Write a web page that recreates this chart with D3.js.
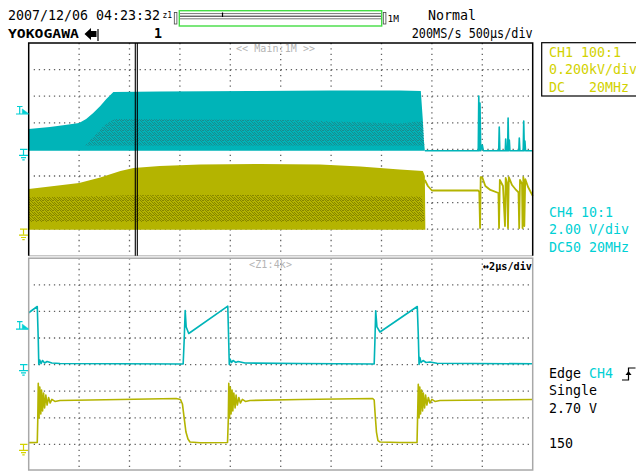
<!DOCTYPE html>
<html>
<head>
<meta charset="utf-8">
<script src="https://cdn.jsdelivr.net/npm/d3@7/dist/d3.min.js"></script>
<style>
body { margin: 0; background: #fff; }
text { font-family: "DejaVu Sans Mono", monospace; white-space: pre; }
</style>
</head>
<body>
<div id="scope"></div>
<script>
// --- main window (0..5 ms, 500us/div) : [ms, volts]
const ch4MainTop = [[0,1.53],[0.21,1.68],[0.36,1.83],[0.50,1.98],[0.57,2.29],[0.64,2.74],[0.71,3.26],[0.77,3.79],[0.84,4.32],[1.30,4.35],[2.20,4.39],[2.99,4.43],[3.68,4.43],[3.89,4.39],[3.91,2.21],[3.92,0.71],[3.93,-0.1]];
const ch4MainDense = [[0.56,0.3],[0.66,1.08],[0.76,1.91],[0.86,2.29],[1.70,2.25],[2.69,2.2],[3.68,1.95],[3.91,2.14],[3.92,0.7],[3.925,0.3]];
const ch4MainFloor = -0.1;
const ch4DenseFloor = 0.3;
const ch4MainTail = [[3.93,-0.1],[4.46,-0.1],[4.465,4.02],[4.471,-0.1],[4.477,3.49],[4.484,-0.1],[4.50,0.33],[4.51,-0.1],[4.663,-0.1],[4.668,1.68],[4.674,-0.1],[4.728,-0.1],[4.732,0.78],[4.738,-0.1],[4.751,-0.1],[4.756,2.36],[4.762,-0.1],[4.768,0.70],[4.774,-0.1],[4.862,-0.1],[4.867,0.86],[4.873,-0.1],[4.906,-0.1],[4.911,2.14],[4.917,-0.1],[4.923,0.63],[4.929,-0.1],[5.0,-0.1]];

const ch1MainTop = [[0,302],[0.21,321],[0.50,347],[0.71,389],[0.91,438],[1.04,460],[1.30,475],[1.70,486],[2.29,490],[2.89,486],[3.29,471],[3.68,449],[3.91,438],[3.93,400],[3.935,-5]];
const ch1MainDense = [[0,240],[0.5,245],[1.0,255],[2.0,258],[3.0,254],[3.9,246],[3.93,54]];
const ch1MainFloor = -5;
const ch1DenseFloor = 54;
const ch1MainTail = [[3.93,370],[3.96,325],[4.00,291],[4.46,291],[4.47,280],[4.478,9],[4.484,392],[4.50,389],[4.53,325],[4.58,295],[4.66,272],[4.666,9],[4.674,370],[4.705,325],[4.725,24],[4.732,385],[4.745,347],[4.755,9],[4.763,392],[4.795,332],[4.835,295],[4.859,276],[4.866,9],[4.874,370],[4.894,340],[4.899,9],[4.907,392],[4.917,24],[4.926,377],[4.954,317],[5.0,250]];

// --- zoom window Z1 (0..20 us, 2us/div) : [us, volts]
const ch4ZoomTrace = [[0,3.90],[0.34,4.37],[0.38,1.85],[0.40,0.01],[0.44,0.35],[0.49,0.08],[0.55,0.31],[0.63,0.12],[0.73,0.23],[0.92,0.12],[1.24,0.08],[3.63,0.06],[6.13,0.05],[6.17,1.85],[6.21,4.07],[6.25,2.83],[6.35,2.34],[7.90,4.39],[7.93,2.23],[7.96,0.01],[7.99,0.42],[8.05,0.16],[8.11,0.31],[8.21,0.16],[8.31,0.23],[8.58,0.12],[10.77,0.08],[13.71,0.05],[13.74,1.85],[13.77,4.05],[13.82,2.83],[13.94,2.45],[15.42,4.37],[15.46,2.23],[15.49,0.01],[15.52,0.53],[15.57,0.16],[15.65,0.31],[15.77,0.16],[15.92,0.2],[16.2,0.1],[20,0.06]];
const ch1ZoomTrace = [[0,13],[0.34,14],[0.36,183],[0.38,459],[0.41,198],[0.44,432],[0.48,229],[0.51,409],[0.55,251],[0.59,386],[0.63,274],[0.68,371],[0.73,296],[0.79,353],[0.85,311],[0.92,338],[1.04,323],[1.24,330],[3.63,338],[5.85,345],[6.02,338],[6.10,304],[6.17,198],[6.24,93],[6.32,41],[6.40,18],[6.80,12],[7.89,14],[7.92,183],[7.94,459],[7.97,198],[8.00,432],[8.03,229],[8.07,409],[8.10,251],[8.14,386],[8.19,274],[8.23,371],[8.28,296],[8.34,353],[8.40,311],[8.48,338],[8.60,323],[8.78,330],[10.77,338],[13.65,345],[13.71,334],[13.75,221],[13.80,93],[13.86,29],[13.94,18],[14.73,14],[15.41,14],[15.43,183],[15.46,452],[15.49,198],[15.52,432],[15.55,229],[15.59,409],[15.63,251],[15.66,386],[15.71,274],[15.75,371],[15.80,296],[15.86,353],[15.92,311],[16.0,338],[16.12,323],[16.32,330],[20,338]];

// settings
const ch4VoltsPerDiv = 2.0, ch4Offset = 0;   // ground at centre
const ch1VoltsPerDiv = 200, ch1Offset = -3;  // ground 3 div below centre
const triggerLevel = 2.70;
const zoomStart = 1.0575, zoomSpan = 0.02;   // ms

const cyan = "#00b4b8", cyanText = "#00d0d4", cyanDark = "#1a8c8e";
const olive = "#b4b400", yellowText = "#d2d200", oliveDark = "#858500";

const width = 636, height = 472;
const left = 28.7, right = 532.7;

const svg = d3.select("#scope").append("svg")
    .attr("width", width)
    .attr("height", height);

// speckle used for the dense part of the envelopes
const speckle = [[0,0],[3,0],[1,1],[4,2],[2,2],[0,3],[3,3],[1,4],[4,4],[2,0]];
const defs = svg.append("defs");
function dotPattern(id, color) {
    const p = defs.append("pattern").attr("id", id)
        .attr("width", 5).attr("height", 5)
        .attr("patternUnits", "userSpaceOnUse");
    speckle.forEach(c => {
        p.append("rect").attr("x", c[0]).attr("y", c[1])
            .attr("width", 1).attr("height", 1).attr("fill", color);
    });
}
dotPattern("cyanDots", cyanDark);
dotPattern("oliveDots", oliveDark);

const xMain = d3.scaleLinear().domain([0, 5]).range([left, right]);
const xZoom = d3.scaleLinear().domain([0, 20]).range([left, right]);
const yUp = d3.scaleLinear().domain([4, -4]).range([43, 255.8]);
const yLow = d3.scaleLinear().domain([4, -4]).range([258.2, 471]);

const ch4Div = v => v / ch4VoltsPerDiv + ch4Offset;
const ch1Div = v => v / ch1VoltsPerDiv + ch1Offset;

function grid(x, y) {
    const g = svg.append("g").attr("stroke", "#606060").attr("stroke-width", 1.3);
    const [y0, y1] = y.range();
    const [x0, x1] = x.range();
    const xt = x.ticks(10).slice(1, -1);
    const yt = d3.range(-3, 4);
    g.selectAll(".v").data(xt).enter().append("line")
        .attr("x1", d => x(d)).attr("x2", d => x(d))
        .attr("y1", y0).attr("y2", y1)
        .attr("stroke-dasharray", "1.3," + ((y1 - y0) / 40 - 1.3));
    g.selectAll(".h").data(yt).enter().append("line")
        .attr("y1", d => y(d)).attr("y2", d => y(d))
        .attr("x1", x0 + (x1 - x0) / 100).attr("x2", x1)
        .attr("stroke-dasharray", "1.3," + ((x1 - x0) / 100 - 1.3));
}
grid(xMain, yUp);
grid(xZoom, yLow);

function band(x, y, conv, top, floor, fill) {
    svg.append("path").datum(top)
        .attr("fill", fill)
        .attr("d", d3.area()
            .x(d => x(d[0]))
            .y0(y(conv(floor)))
            .y1(d => y(conv(d[1]))));
}
function trace(x, y, conv, data, color, w) {
    svg.append("path").datum(data)
        .attr("fill", "none")
        .attr("stroke", color)
        .attr("stroke-width", w)
        .attr("stroke-linejoin", "round")
        .attr("d", d3.line().x(d => x(d[0])).y(d => y(conv(d[1]))));
}

// upper: main window
band(xMain, yUp, ch4Div, ch4MainTop, ch4MainFloor, cyan);
band(xMain, yUp, ch4Div, ch4MainDense, ch4DenseFloor, "url(#cyanDots)");
trace(xMain, yUp, ch4Div, ch4MainTail, cyan, 1.6);
band(xMain, yUp, ch1Div, ch1MainTop, ch1MainFloor, olive);
band(xMain, yUp, ch1Div, ch1MainDense, ch1DenseFloor, "url(#oliveDots)");
trace(xMain, yUp, ch1Div, ch1MainTail, olive, 1.8);

// lower: zoom window
trace(xZoom, yLow, ch4Div, ch4ZoomTrace, cyan, 1.6);
trace(xZoom, yLow, ch1Div, ch1ZoomTrace, olive, 1.6);

// frames
svg.append("rect")
    .attr("x", left).attr("y", yLow.range()[0])
    .attr("width", right - left).attr("height", yLow.range()[1] - yLow.range()[0] - 1)
    .attr("fill", "none").attr("stroke", "#a8a8a8").attr("stroke-width", 1.5);
svg.append("line").attr("x1", left).attr("x2", right)
    .attr("y1", yUp.range()[1]).attr("y2", yUp.range()[1])
    .attr("stroke", "#b0b0b0").attr("stroke-width", 1);
svg.append("path")
    .attr("d", `M${left},${yUp.range()[1]}V${yUp.range()[0]}H${right}V${yUp.range()[1]}`)
    .attr("fill", "none").attr("stroke", "#000").attr("stroke-width", 1.5);

// zoom cursor (double line)
[zoomStart, zoomStart + zoomSpan].forEach(t => {
    svg.append("line")
        .attr("x1", xMain(t)).attr("x2", xMain(t))
        .attr("y1", yUp.range()[0]).attr("y2", yUp.range()[1])
        .attr("stroke", "#000").attr("stroke-width", 1.1);
});

// left side markers
function groundMark(y, color) {
    const g = svg.append("g").attr("stroke", color).attr("stroke-width", 1.2).attr("fill", "none");
    g.append("path").attr("d", `M20,${y}H27.5M23.5,${y}V${y + 5.5}`);
    g.append("path").attr("d", `M19,${y + 6}H28M21,${y + 8.3}H26M22.3,${y + 10.5}H24.7`);
}
function trigMark(y, color) {
    const g = svg.append("g").attr("stroke", color).attr("stroke-width", 1.2);
    g.append("path").attr("fill", "none").attr("d", `M17,${y - 7}H22.5M19.7,${y - 7}V${y}M16,${y + 0.5}H28.5`);
    g.append("path").attr("fill", color).attr("stroke-width", 0.6).attr("d", `M22.3,${y - 4.5}L28.3,${y}L22.3,${y}Z`);
}
trigMark(yUp(ch4Div(triggerLevel)), cyanText);
groundMark(yUp(ch4Div(0)), cyanText);
groundMark(yUp(ch1Div(0)), yellowText);
trigMark(yLow(ch4Div(triggerLevel)), cyanText);
groundMark(yLow(ch4Div(0)), cyanText);
groundMark(yLow(ch1Div(0)), yellowText);

// header
function label(x, y, s, size, color, extra) {
    const t = svg.append("text").attr("x", x).attr("y", y)
        .attr("font-size", size).attr("fill", color || "#000").text(s);
    if (extra) extra(t);
    return t;
}
label(8, 19.5, "2007/12/06 04:23:32", 13.3);
label(8, 37.5, "YOKOGAWA", 11.5, "#000", t => t.attr("font-family", "Liberation Sans")
    .attr("font-weight", "bold").attr("textLength", 71).attr("lengthAdjust", "spacingAndGlyphs"));
svg.append("path").attr("fill", "#000")
    .attr("d", "M84.5,34L91,28V31H96.5V37H91V40Z");
svg.append("line").attr("x1", 98).attr("x2", 98).attr("y1", 29).attr("y2", 41).attr("stroke", "#000").attr("stroke-width", 1.2);
label(154, 37.5, "1", 13.3, "#000", t => t.attr("font-weight", "bold"));
label(162.5, 18, "z1", 8);
svg.append("rect").attr("x", 174.3).attr("y", 12.5).attr("width", 2.6).attr("height", 11.5)
    .attr("fill", "#fff").attr("stroke", "#444").attr("stroke-width", 0.8);
svg.append("rect").attr("x", 179.3).attr("y", 10.7).attr("width", 202.4).attr("height", 15.3)
    .attr("fill", "#fff").attr("stroke", "#44dd44").attr("stroke-width", 1.4);
[[13.6, "#777"], [16.2, "#222"], [18.8, "#777"]].forEach(l => {
    svg.append("line").attr("x1", 180).attr("x2", 381).attr("y1", l[0]).attr("y2", l[0])
        .attr("stroke", l[1]).attr("stroke-width", 1);
});
const barX = d3.scaleLinear().domain([0, 5]).range([179.3, 381.7]);
svg.append("line").attr("x1", barX(zoomStart + zoomSpan / 2)).attr("x2", barX(zoomStart + zoomSpan / 2))
    .attr("y1", 12.5).attr("y2", 17).attr("stroke", "#000").attr("stroke-width", 1.2);
svg.append("rect").attr("x", 383.3).attr("y", 12.5).attr("width", 2.6).attr("height", 11.5)
    .attr("fill", "#fff").attr("stroke", "#444").attr("stroke-width", 0.8);
label(387.5, 22, "1M", 9.5);
label(428, 19.5, "Normal", 13.3);
label(411.7, 37.5, "200MS/s 500µs/div", 13.3, "#000", t => t.attr("textLength", 121).attr("lengthAdjust", "spacingAndGlyphs"));

// panel captions
label(236, 52, "<< Main:1M >>", 10, "#b4b4b4", t => t.attr("textLength", 79));
label(249, 267.5, "<Z1:4k>", 10, "#b4b4b4", t => t.attr("textLength", 43));
label(483, 269.5, "↔2µs/div", 11, "#000", t => t.attr("font-weight", "bold").attr("textLength", 49).attr("lengthAdjust", "spacingAndGlyphs"));

// channel settings
svg.append("rect").attr("x", 541.7).attr("y", 42.7).attr("width", 110).attr("height", 53.3)
    .attr("fill", "#fff").attr("stroke", "#000").attr("stroke-width", 1.2);
const ch1Lines = ["CH1 100:1", "0.200kV/div", "DC   20MHz"];
ch1Lines.forEach((s, i) => label(549, 56.5 + i * 17.5, s, 13.3, yellowText));
const ch4Lines = ["CH4 10:1", "2.00 V/div", "DC50 20MHz"];
ch4Lines.forEach((s, i) => label(549, 216.5 + i * 17.5, s, 13.3, cyanText));

// trigger info
const edge = label(549, 378, "Edge ", 13.3);
edge.append("tspan").attr("fill", cyanText).text("CH4");
svg.append("path").attr("fill", "none").attr("stroke", "#000").attr("stroke-width", 1.2)
    .attr("d", "M622,380H628.5V368H635.5");
svg.append("path").attr("fill", "#000").attr("d", "M625.5,375L628.5,371L631.5,375Z");
label(549, 395, "Single", 13.3);
label(549, 412.5, `${triggerLevel.toFixed(2)} V`, 13.3);
label(549, 448, "150", 13.3);
</script>
</body>
</html>
